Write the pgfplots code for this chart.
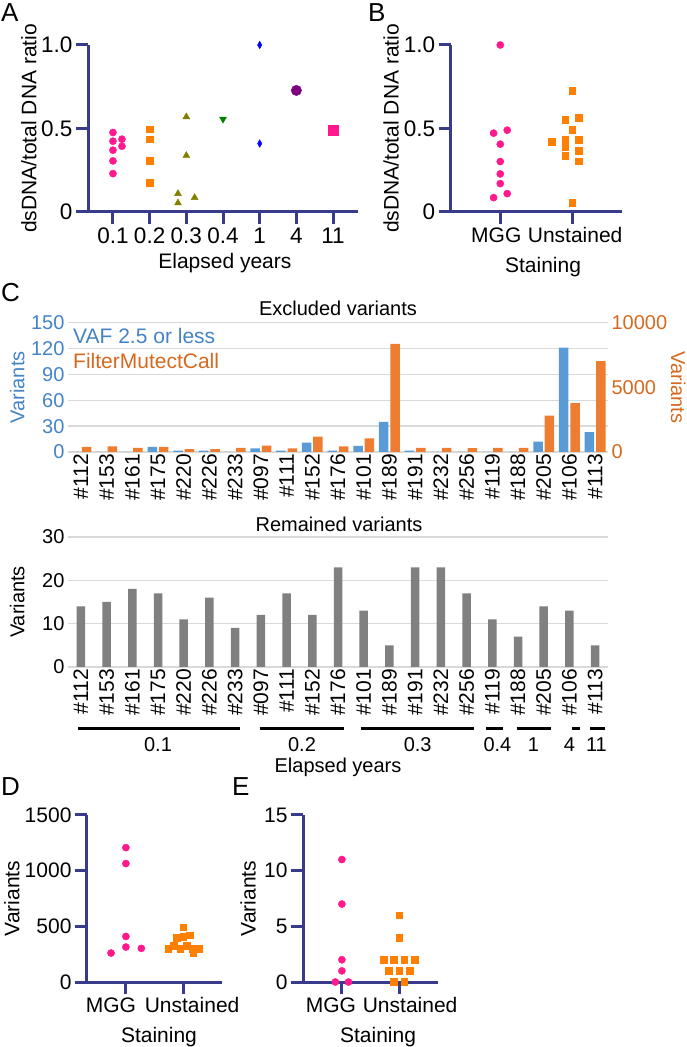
\documentclass[border=0pt]{standalone}
\usepackage{fontspec}
\setmainfont{Liberation Sans}
\usepackage{pgfplots}
\pgfplotsset{compat=1.18}
\definecolor{navy}{RGB}{56,58,138}
\definecolor{mpink}{RGB}{255,25,140}
\definecolor{morange}{RGB}{255,128,0}
\definecolor{molive}{RGB}{128,128,0}
\definecolor{mgreen}{RGB}{0,128,0}
\definecolor{mblue}{RGB}{0,0,255}
\definecolor{mpurple}{RGB}{128,0,128}
\definecolor{xblue}{RGB}{91,155,213}
\definecolor{xorange}{RGB}{237,125,49}
\definecolor{tblue}{RGB}{68,131,196}
\definecolor{torange}{RGB}{214,105,30}
\definecolor{xgray}{RGB}{128,128,128}
\definecolor{xgrid}{RGB}{217,217,217}
\pgfplotsset{
  /pgf/number format/assume math mode=true,
  /pgf/number format/1000 sep={},
  dotstyle/.style={
    scale only axis, clip=false, enlargelimits=false,
    axis x line=bottom, axis y line=left,
    axis line style={-, line width=3pt, color=navy},
    major tick style={line width=3pt, color=navy},
    tick align=outside, major tick length=12pt,
    font=\fontsize{21}{25}\selectfont,
    scaled y ticks=false,
  },
  pinkdot/.style={only marks, mark=*, mark size=3.6pt, color=mpink},
  orsq/.style={only marks, mark=square*, mark size=3.4pt, color=morange},
  barstyle/.style={
    scale only axis, enlargelimits=false,
    xmin=-0.5, xmax=20.5, width=540pt,
    font=\fontsize{20}{24}\selectfont,
    major tick length=0pt, axis line style={draw=none},
    xtick={0,...,20},
    scaled y ticks=false,
  },
}
\begin{document}
\begin{tikzpicture}[x=1pt,y=1pt]
\path[use as bounding box] (0,0) rectangle (687,1047);

% ---------- Panel A ----------
\begin{axis}[dotstyle, at={(88pt,835pt)}, anchor=south west, width=270pt, height=167pt,
  xmin=-0.68, xmax=6.68, ymin=0, ymax=1,
  xtick={0,...,6}, xticklabels={0.1,0.2,0.3,0.4,1,4,11},
  ytick={0,0.5,1}, yticklabels={0,0.5,1.0},
  ticklabel style={font=\fontsize{22.5}{26}\selectfont},
  xlabel={Elapsed years}, ylabel={dsDNA/total DNA ratio},
  xlabel style={at={(axis description cs:0.507,-0.305)}, anchor=center},
  ylabel style={at={(axis description cs:-0.219,0.5)}, anchor=center},
]
\addplot[pinkdot] coordinates {(0,0.476) (0,0.424) (0,0.37) (0,0.306) (0,0.23) (0.245,0.436) (0.245,0.394)};
\addplot[orsq] coordinates {(1,0.496) (1,0.436) (1,0.308) (1,0.174)};
\addplot[only marks, mark=triangle*, mark size=4pt, color=molive] coordinates {(2,0.57) (2,0.338) (1.773,0.11) (1.773,0.054) (2.227,0.086)};
\addplot[only marks, mark=triangle*, mark size=4pt, color=mgreen, mark options={rotate=180}] coordinates {(3,0.556)};
\addplot[only marks, mark=diamond*, mark size=3.8pt, color=mblue, mark options={xscale=0.75}] coordinates {(4,1.0) (4,0.41)};
\addplot[only marks, mark=*, mark size=5.2pt, color=mpurple] coordinates {(5,0.728)};
\addplot[only marks, mark=square*, mark size=5pt, color=mpink] coordinates {(6,0.49)};
\end{axis}

% ---------- Panel B ----------
\begin{axis}[dotstyle, at={(450.7pt,835pt)}, anchor=south west, width=171pt, height=167pt,
  xmin=-0.69, xmax=1.69, ymin=0, ymax=1,
  xtick={1}, xticklabels={Unstained}, xticklabel style={xshift=3pt},
  extra x ticks={0}, extra x tick labels={MGG}, extra x tick style={xticklabel style={xshift=-7pt}},
  ytick={0,0.5,1}, yticklabels={0,0.5,1.0},
  yticklabel style={font=\fontsize{22.5}{26}\selectfont},
  xlabel={Staining}, ylabel={dsDNA/total DNA ratio},
  xlabel style={at={(axis description cs:0.54,-0.33)}, anchor=center},
  ylabel style={at={(axis description cs:-0.349,0.5)}, anchor=center},
]
\addplot[pinkdot] coordinates {(0,1.0) (-0.093,0.472) (0.097,0.49) (0,0.406) (0,0.302) (0,0.228) (0,0.17) (-0.093,0.086) (0.097,0.11)};
\addplot[orsq] coordinates {(1,0.724) (0.903,0.552) (1.093,0.566) (1,0.494) (0.72,0.422) (0.903,0.434) (0.903,0.39) (1.093,0.432) (1.093,0.368) (0.903,0.336) (1.093,0.304) (1,0.054)};
\end{axis}

% ---------- Panel C: excluded (left axis, VAF) ----------
\begin{axis}[barstyle, at={(68pt,595pt)}, anchor=south west, height=129.3pt,
  ymin=0, ymax=150, ytick={0,30,...,150},
  ymajorgrids, grid style={xgrid, line width=1.5pt},
  tick pos=left,
  xticklabels={\#112,\#153,\#161,\#175,\#220,\#226,\#233,\#097,\#111,\#152,\#176,\#101,\#189,\#191,\#232,\#256,\#119,\#188,\#205,\#106,\#113},
  xticklabel style={rotate=90, anchor=east, inner sep=2pt, font=\fontsize{21}{25}\selectfont},
  yticklabel style={color=tblue},
  ylabel={Variants}, ylabel style={color=tblue, at={(axis description cs:-0.094,0.5)}, anchor=center},
  ybar, bar width=9.5pt, bar shift=-5.7pt,
]
\addplot[fill=xblue, draw=none] coordinates {(0,0) (1,0) (2,0) (3,6) (4,1.5) (5,1.5) (6,0) (7,4.3) (8,1.5) (9,11) (10,1.5) (11,7) (12,35) (13,1.5) (14,0) (15,0) (16,0) (17,0) (18,12) (19,121) (20,23)};
\end{axis}
% ---------- Panel C: excluded (right axis, FilterMutectCall) ----------
\begin{axis}[barstyle, at={(68pt,595pt)}, anchor=south west, height=129.3pt,
  ymin=0, ymax=10000, ytick={0,5000,10000},
  axis x line=none, axis y line*=right,
  yticklabel style={color=torange},
  ylabel={Variants}, ylabel style={color=torange, at={(axis description cs:1.13,0.5)}, anchor=center, rotate=180},
  ybar, bar width=9.5pt, bar shift=5.7pt,
]
\addplot[fill=xorange, draw=none] coordinates {(0,390) (1,440) (2,310) (3,390) (4,230) (5,230) (6,310) (7,490) (8,285) (9,1190) (10,440) (11,1060) (12,8370) (13,310) (14,310) (15,290) (16,310) (17,310) (18,2820) (19,3770) (20,7030)};
\end{axis}

% ---------- Panel C: remained ----------
\begin{axis}[barstyle, at={(68pt,380pt)}, anchor=south west, height=130pt, clip=false,
  ymin=0, ymax=30, ytick={0,10,20,30},
  ymajorgrids, grid style={xgrid, line width=1.5pt},
  tick pos=left,
  xticklabels={\#112,\#153,\#161,\#175,\#220,\#226,\#233,\#097,\#111,\#152,\#176,\#101,\#189,\#191,\#232,\#256,\#119,\#188,\#205,\#106,\#113},
  xticklabel style={rotate=90, anchor=east, inner sep=2pt, font=\fontsize{21}{25}\selectfont},
  ylabel={Variants}, ylabel style={at={(axis description cs:-0.094,0.5)}, anchor=center},
  ybar, bar width=8.5pt,
]
\addplot[fill=xgray, draw=none] coordinates {(0,14) (1,15) (2,18) (3,17) (4,11) (5,16) (6,9) (7,12) (8,17) (9,12) (10,23) (11,13) (12,5) (13,23) (14,23) (15,17) (16,11) (17,7) (18,14) (19,13) (20,5)};
\draw[line width=3pt] (axis cs:-0.1,-14.3) -- (axis cs:6.2,-14.3);
\draw[line width=3pt] (axis cs:6.95,-14.3) -- (axis cs:10.25,-14.3);
\draw[line width=3pt] (axis cs:10.9,-14.3) -- (axis cs:15.3,-14.3);
\draw[line width=3pt] (axis cs:15.75,-14.3) -- (axis cs:16.4,-14.3);
\draw[line width=3pt] (axis cs:16.95,-14.3) -- (axis cs:18.3,-14.3);
\draw[line width=3pt] (axis cs:19.1,-14.3) -- (axis cs:19.4,-14.3);
\draw[line width=3pt] (axis cs:19.8,-14.3) -- (axis cs:20.4,-14.3);
\begin{scope}[every node/.style={inner sep=0pt}]
\node at (axis cs:3,-17.8) {0.1};
\node at (axis cs:8.6,-17.8) {0.2};
\node at (axis cs:13.1,-17.8) {0.3};
\node at (axis cs:16.2,-17.8) {0.4};
\node at (axis cs:17.6,-17.8) {1};
\node at (axis cs:19,-17.8) {4};
\node at (axis cs:20.05,-17.8) {11};
\node at (axis cs:10,-23.1) {Elapsed years};
\end{scope}
\end{axis}

% ---------- Panel D ----------
\begin{axis}[dotstyle, at={(87pt,65pt)}, anchor=south west, width=135pt, height=167pt,
  xmin=-0.68, xmax=1.68, ymin=0, ymax=1500,
  xtick={1}, xticklabels={Unstained}, xticklabel style={xshift=9pt},
  extra x ticks={0}, extra x tick labels={MGG}, extra x tick style={xticklabel style={xshift=-24pt}},
  ytick={0,500,1000,1500},
  xlabel={Staining}, ylabel={Variants},
  xlabel style={at={(axis description cs:0.533,-0.33)}, anchor=center},
  ylabel style={at={(axis description cs:-0.556,0.5)}, anchor=center},
]
\addplot[pinkdot] coordinates {(0,1207) (0,1064) (0,409) (0,314) (-0.26,260) (0.27,302)};
\addplot[orsq] coordinates {(1,493) (0.895,396) (1.0,405) (1.11,420) (0.74,296) (0.84,326) (0.95,296) (1.06,326) (1.16,296) (1.175,260) (1.27,296)};
\end{axis}

% ---------- Panel E ----------
\begin{axis}[dotstyle, at={(303pt,65pt)}, anchor=south west, width=135pt, height=167pt,
  xmin=-0.68, xmax=1.68, ymin=0, ymax=15,
  xtick={1}, xticklabels={Unstained}, xticklabel style={xshift=11pt},
  extra x ticks={0}, extra x tick labels={MGG}, extra x tick style={xticklabel style={xshift=-22pt}},
  ytick={0,5,10,15},
  xlabel={Staining}, ylabel={Variants},
  xlabel style={at={(axis description cs:0.556,-0.33)}, anchor=center},
  ylabel style={at={(axis description cs:-0.407,0.5)}, anchor=center},
]
\addplot[pinkdot] coordinates {(0,11) (0,7) (0,2) (0,1) (-0.115,0) (0.115,0)};
\addplot[orsq] coordinates {(1,6) (1,4) (0.733,2) (0.91,2) (1.09,2) (1.267,2) (0.82,1) (1,1) (1.18,1) (0.91,0) (1.09,0)};
\end{axis}

% ---------- annotations ----------
\begin{scope}[font=\fontsize{26}{30}\selectfont, every node/.style={anchor=west, inner sep=0pt}]
\node at (1,1034) {A};
\node at (368,1034) {B};
\node at (1,754) {C};
\node at (1,260) {D};
\node at (232,260) {E};
\end{scope}
\begin{scope}[font=\fontsize{20}{24}\selectfont]
\node at (338,739) {Excluded variants};
\node at (339,523) {Remained variants};
\end{scope}
\begin{scope}[font=\fontsize{21}{25}\selectfont]
\node[anchor=west, inner sep=0pt, text=tblue] at (73,711) {VAF 2.5 or less};
\node[anchor=west, inner sep=0pt, text=torange] at (73,686) {FilterMutectCall};
\end{scope}
\end{tikzpicture}
\end{document}
